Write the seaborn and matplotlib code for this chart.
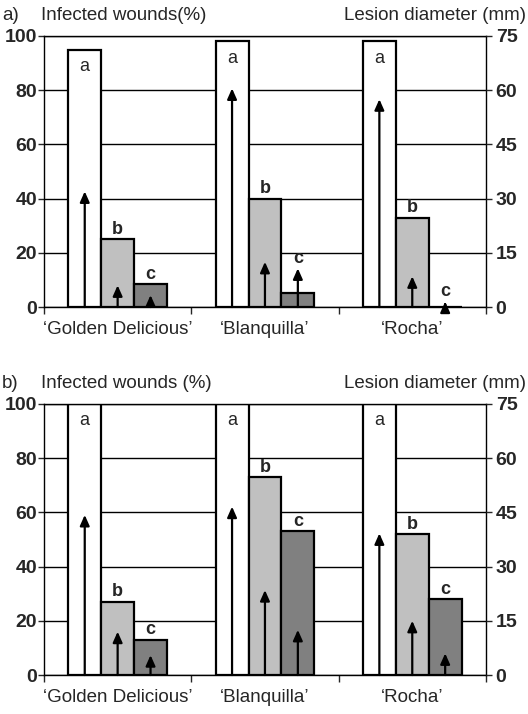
import pandas as pd
import seaborn as sns
import matplotlib.pyplot as plt

# --- data ---
cultivars = ["‘Golden Delicious’", "‘Blanquilla’", "‘Rocha’"]
treatments = ["control", "treat1", "treat2"]
letters = ["a", "b", "c"]

# panel a
a_infected_control = [95, 98, 98]
a_infected_t1 = [25, 40, 33]
a_infected_t2 = [8.5, 5.3, 0]
a_lesion_control = [32, 60.5, 57.5]
a_lesion_t1 = [6, 12.5, 8.5]
a_lesion_t2 = [3.3, 10.7, 1.5]

# panel b
b_infected_control = [100, 100, 100]
b_infected_t1 = [27, 73, 52]
b_infected_t2 = [13, 53, 28]
b_lesion_control = [44.3, 46.6, 39.2]
b_lesion_t1 = [12, 23.5, 15]
b_lesion_t2 = [5.5, 12.5, 6]

colors = ["white", "#c0c0c0", "#808080"]
FONT = "Liberation Sans"


def make_df(inf, les):
    rows = []
    for t, ivals, lvals in zip(treatments, inf, les):
        for c, iv, lv in zip(cultivars, ivals, lvals):
            rows.append({"cultivar": c, "treatment": t, "infected": iv, "lesion": lv})
    return pd.DataFrame(rows)


def draw_panel(fig, rect, df, label, left_title, right_title):
    ax = fig.add_axes(rect)
    sns.barplot(data=df, x="cultivar", y="infected", hue="treatment",
                order=cultivars, hue_order=treatments, palette=colors,
                edgecolor="black", linewidth=1.6, width=0.67, gap=0,
                legend=False, ax=ax)
    ax.set_ylim(0, 100)
    ax.set_xlim(-0.5, 2.5)
    ax.set_yticks(range(0, 101, 20))
    ax.set_axisbelow(True)
    ax.grid(axis="y", color="black", linewidth=1)
    ax.grid(axis="x", visible=False)
    for s in ax.spines.values():
        s.set_color("black")
        s.set_linewidth(1)
    ax.set_xlabel("")
    ax.set_ylabel("")
    ax.tick_params(axis="y", left=True, length=4, width=1, labelsize=14, pad=1)
    for t in ax.get_yticklabels():
        t.set_fontweight("bold")
    ax.set_xticks([0, 1, 2])
    ax.set_xticklabels(cultivars, fontsize=13.5)
    ax.tick_params(axis="x", which="major", length=0, pad=10)
    ax.set_xticks([-0.5, 0.5, 1.5, 2.5], minor=True)
    ax.tick_params(axis="x", which="minor", bottom=True, length=5, width=1,
                   direction="out")

    ax2 = ax.twinx()
    ax2.set_ylim(0, 75)
    ax2.set_yticks(range(0, 76, 15))
    ax2.tick_params(axis="y", right=True, length=4, width=1, labelsize=14, pad=3)
    for t in ax2.get_yticklabels():
        t.set_fontweight("bold")
    ax2.grid(False)
    for s in ax2.spines.values():
        s.set_visible(False)

    # bars sorted by position -> cultivar-major, treatment-minor
    bars = sorted(ax.patches, key=lambda p: p.get_x())
    df_sorted = df.set_index(["cultivar", "treatment"])
    k = 0
    for c in cultivars:
        for j, t in enumerate(treatments):
            p = bars[k]
            k += 1
            xc = p.get_x() + p.get_width() / 2
            top = df_sorted.loc[(c, t), "infected"]
            les = df_sorted.loc[(c, t), "lesion"]
            ax2.annotate("", xy=(xc, les), xytext=(xc, 0),
                         arrowprops=dict(arrowstyle="-|>,head_length=0.45,head_width=0.2",
                                         color="black", lw=1.6, mutation_scale=14,
                                         shrinkA=0, shrinkB=0))
            if j == 0:
                ax.text(xc, top - 3, letters[j], ha="center", va="top", fontsize=13)
            else:
                y = max(top, les / 0.75)
                ax.text(xc, y + 0.5, letters[j], ha="center", va="bottom",
                        fontsize=13, fontweight="bold")

    ytxt = rect[1] + rect[3] + 0.017
    fig.text(0.004, ytxt, label, fontsize=13.5, va="bottom")
    fig.text(rect[0] - 0.005, ytxt, left_title, fontsize=13.5, va="bottom")
    fig.text(0.997, ytxt, right_title, fontsize=13.5, va="bottom", ha="right")
    return ax


sns.set_style("white")
plt.rcParams['font.family'] = [FONT, 'DejaVu Sans']

fig = plt.figure(figsize=(5.28, 7.14), dpi=100)

df_a = make_df([a_infected_control, a_infected_t1, a_infected_t2],
               [a_lesion_control, a_lesion_t1, a_lesion_t2])
df_b = make_df([b_infected_control, b_infected_t1, b_infected_t2],
               [b_lesion_control, b_lesion_t1, b_lesion_t2])

draw_panel(fig, [0.0833, 0.570, 0.837, 0.3796], df_a, "a)", "Infected wounds(%)",
           "Lesion diameter (mm)")
draw_panel(fig, [0.0833, 0.0546, 0.837, 0.3796], df_b, "b)", "Infected wounds (%)",
           "Lesion diameter (mm)")

fig.savefig("out.png", dpi=100)
